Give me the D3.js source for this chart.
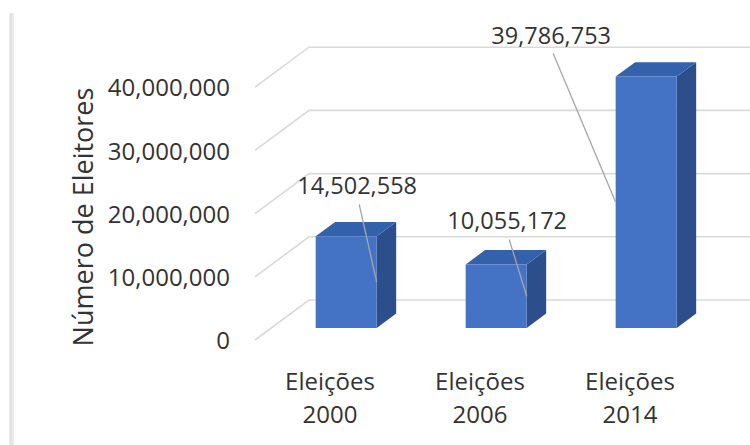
<!DOCTYPE html>
<html>
<head>
<meta charset="utf-8">
<script src="https://cdn.jsdelivr.net/npm/d3@7"></script>
<style>
  html, body { margin: 0; padding: 0; background: #ffffff; }
  svg { display: block; }
  text { font-family: "Open Sans", "Liberation Sans", sans-serif; fill: #333333; }
</style>
</head>
<body>
<svg id="chart" width="750" height="445"></svg>
<script>
// ---- data ----
const categories = ["Eleições 2000", "Eleições 2006", "Eleições 2014"];
const values = [14502558, 10055172, 39786753];
const tickValues = [0, 10000000, 20000000, 30000000, 40000000];
const yTitle = "Número de Eleitores";

// ---- layout ----
const W = 750, H = 445;
const svg = d3.select("#chart");

const depthX = 54, depthY = 40;      // full floor depth (front plane -> back wall)
const barZ0 = 0.30, barZ1 = 0.66;    // bar depth range as fraction of floor depth

const x = d3.scaleBand().domain(categories).range([255, 705]).paddingInner(0.593).paddingOuter(0.2965);
const yFront = d3.scaleLinear().domain([0, 40000000]).range([340, 87.2]);
// projection of a point (front-plane x, value, depth fraction)
const P = (px, v, z) => [px + z * depthX, yFront(v) - z * depthY];

// left frame shadow
svg.append("rect").attr("x", 9).attr("y", 13).attr("width", 5).attr("height", H - 13).attr("fill", "#ececec");
svg.append("rect").attr("x", 10).attr("y", 13).attr("width", 2).attr("height", H - 13).attr("fill", "#e2e2e2");

// gridlines: diagonal on side wall + horizontal on back wall
const gridG = svg.append("g");
tickValues.forEach(v => {
  const a = P(255, v, 0), b = P(255, v, 1);
  gridG.append("polyline")
    .attr("points", [a, b, [W + 5, b[1]]].map(p => p.join(",")).join(" "))
    .attr("fill", "none").attr("stroke", "#d9d9d9").attr("stroke-width", 1.6);
});

// y axis labels via d3.axisLeft on the front-plane scale
const axisG = svg.append("g").attr("transform", "translate(242,1)")
  .call(d3.axisLeft(yFront).tickValues(tickValues).tickFormat(d3.format(",")).tickSize(0).tickPadding(12));
axisG.select(".domain").remove();
axisG.selectAll("text").attr("font-size", 24).attr("fill", "#333333")
  .style("font-family", "'Open Sans', sans-serif");

// y title
svg.append("text")
  .attr("transform", "translate(82,217) rotate(-90)")
  .attr("text-anchor", "middle").attr("dominant-baseline", "central")
  .attr("font-size", 27).text(yTitle);

// bars
const bw = x.bandwidth();
const colFront = "#4472c4", colTop = "#3461ab", colSide = "#2c4f8c";
const barG = svg.append("g");
categories.forEach((c, i) => {
  const v = values[i];
  const x0 = x(c), x1 = x0 + bw;
  const fbl = P(x0, 0, barZ0), ftl = P(x0, v, barZ0), ftr = P(x1, v, barZ0), fbr = P(x1, 0, barZ0);
  const btl = P(x0, v, barZ1), btr = P(x1, v, barZ1), bbr = P(x1, 0, barZ1);
  const poly = pts => pts.map(p => p.join(",")).join(" ");
  barG.append("polygon").attr("points", poly([fbr, ftr, btr, bbr])).attr("fill", colSide);
  barG.append("polygon").attr("points", poly([ftl, btl, btr, ftr])).attr("fill", colTop);
  barG.append("polygon").attr("points", poly([fbl, ftl, ftr, fbr])).attr("fill", colFront);
});

// data labels with leader lines (label nudges relative to bar front top-centre)
const fmt = d3.format(",");
const nudges = [[11, -51, "right"], [11, -44, "right"], [-95, -42, "left"]];
const labG = svg.append("g");
categories.forEach((c, i) => {
  const v = values[i];
  const x0 = x(c), x1 = x0 + bw;
  const topC = P(x0 + bw / 2, v, barZ0);
  const lx = topC[0] + nudges[i][0], ly = topC[1] + nudges[i][1];
  const edgeX = nudges[i][2] === "right" ? x1 : x0;
  const end = P(edgeX, v / 2, barZ0);
  labG.append("line")
    .attr("x1", lx + 2).attr("y1", ly + 19).attr("x2", end[0]).attr("y2", end[1])
    .attr("stroke", "#a6a6a6").attr("stroke-width", 1.3);
  labG.append("text").attr("x", lx).attr("y", ly)
    .attr("text-anchor", "middle").attr("dominant-baseline", "central")
    .attr("font-size", 23.5).text(fmt(v));
});

// category labels (front plane)
const catG = svg.append("g");
categories.forEach(c => {
  const cx = x(c) + bw / 2;
  const parts = c.split(" ");
  const t = catG.append("text").attr("text-anchor", "middle").attr("font-size", 24);
  t.append("tspan").attr("x", cx).attr("y", 390).text(parts[0]);
  t.append("tspan").attr("x", cx).attr("y", 423).text(parts[1]);
});
</script>
</body>
</html>
